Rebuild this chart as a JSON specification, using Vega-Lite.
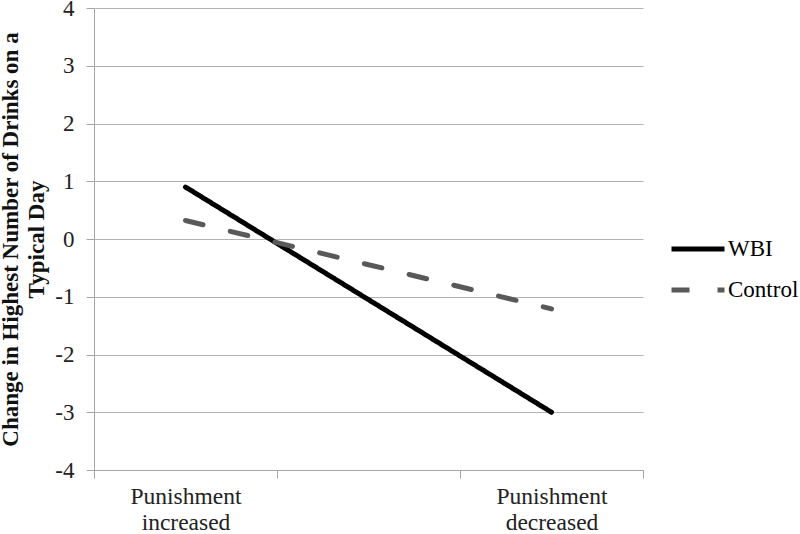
{
  "$schema": "https://vega.github.io/schema/vega-lite/v6.json",
  "width": 549,
  "height": 462,
  "autosize": {"type": "none"},
  "padding": {"left": 94, "top": 8, "right": 157, "bottom": 64},
  "background": "white",
  "config": {
    "view": {"stroke": null},
    "font": "Liberation Serif",
    "axis": {"labelFont": "Liberation Serif", "titleFont": "Liberation Serif"},
    "legend": {"labelFont": "Liberation Serif"}
  },
  "data": {
    "values": [
      {"condition": "Punishment increased", "group": "WBI", "change": 0.90},
      {"condition": "Punishment decreased", "group": "WBI", "change": -3.0},
      {"condition": "Punishment increased", "group": "Control", "change": 0.32},
      {"condition": "Punishment decreased", "group": "Control", "change": -1.21}
    ]
  },
  "mark": {"type": "line", "strokeWidth": 5, "strokeCap": "round"},
  "encoding": {
    "x": {
      "field": "condition",
      "type": "nominal",
      "bandPosition": 0.5,
      "scale": {
        "type": "band",
        "domain": ["Punishment increased", "mid", "Punishment decreased"],
        "paddingInner": 0,
        "paddingOuter": 0
      },
      "axis": {
        "title": null,
        "labelAngle": 0,
        "labelExpr": "indexof(['Punishment increased', 'Punishment decreased'], datum.value) < 0 ? '' : split(datum.value, ' ')",
        "labelFont": "Liberation Serif",
        "labelFontSize": 23.5,
        "labelColor": "#222",
        "labelLineHeight": 26,
        "labelPadding": 6,
        "tickBand": "extent",
        "tickSize": 8,
        "tickColor": "#a6a6a6",
        "domainColor": "#a6a6a6",
        "grid": false
      }
    },
    "y": {
      "field": "change",
      "type": "quantitative",
      "scale": {"domain": [-4, 4], "nice": false},
      "axis": {
        "values": [-4, -3, -2, -1, 0, 1, 2, 3, 4],
        "labelExpr": "datum.value + ''",
        "title": ["Change in Highest Number of Drinks on a", "Typical Day"],
        "titleFont": "Liberation Serif",
        "titleFontSize": 23,
        "titleFontWeight": "bold",
        "titleColor": "#111",
        "titleLineHeight": 26,
        "titlePadding": 6,
        "labelFont": "Liberation Serif",
        "labelFontSize": 23,
        "labelColor": "#222",
        "labelPadding": 12,
        "tickSize": 8,
        "tickColor": "#a6a6a6",
        "domainColor": "#a6a6a6",
        "grid": true,
        "gridColor": "#b3b3b3"
      }
    },
    "color": {
      "field": "group",
      "type": "nominal",
      "scale": {"domain": ["WBI", "Control"], "range": ["#000000", "#595959"]},
      "legend": {
        "title": null,
        "orient": "none",
        "legendX": 575,
        "legendY": 212,
        "symbolType": "stroke",
        "symbolSize": 2809,
        "symbolStrokeWidth": 5,
        "labelFont": "Liberation Serif",
        "labelFontSize": 23,
        "labelColor": "#000",
        "labelOffset": 1,
        "rowPadding": -2
      }
    },
    "strokeDash": {
      "field": "group",
      "type": "nominal",
      "scale": {"domain": ["WBI", "Control"], "range": [[1, 0], [18, 28]]},
      "legend": null
    }
  }
}
